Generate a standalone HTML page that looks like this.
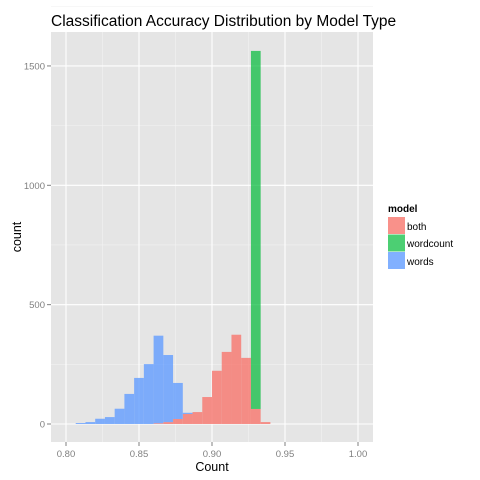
<!DOCTYPE html>
<html><head><meta charset="utf-8"><style>
body{margin:0;background:#fff;}
svg{display:block;font-family:"Liberation Sans",Arial,sans-serif;}
</style></head><body>
<svg id="chart" width="480" height="480" viewBox="0 0 480 480">
<rect width="480" height="480" fill="#fff"/>
<text x="51" y="26" font-size="15.5" fill="#000">Classification Accuracy Distribution by Model Type</text>
<rect x="51" y="32" width="322" height="410" fill="#E5E5E5"/>
<g id="grid"></g>
<g id="bars"></g>
<g id="axes"></g>
<text x="212" y="471" font-size="12.5" text-anchor="middle">Count</text>
<text transform="translate(21,237) rotate(-90)" font-size="12.5" text-anchor="middle">count</text>
<g>
<text x="388" y="212" font-size="10" font-weight="bold">model</text>
<g><rect x="388" y="217" width="17" height="17" fill="#F8766D" fill-opacity="0.8"/><text x="407" y="230" font-size="10">both</text></g>
<g><rect x="388" y="234.5" width="17" height="17" fill="#00BA38" fill-opacity="0.7"/><text x="407" y="247" font-size="10">wordcount</text></g>
<g><rect x="388" y="252" width="17" height="17" fill="#619CFF" fill-opacity="0.8"/><text x="407" y="265" font-size="10">words</text></g>
</g>
</svg>
<script>
const binWidth = 1/150;
const redStartBin = 129;
const redCounts = [3,8,21,42,50,113,223,302,374,277,63,8];
const blueStartBin = 121;
const blueCounts = [4,8,22,29,64,126,193,251,367,281,151,5];
const greenStartBin = 139;
const greenCounts = [1500];
const xTicks = [0.80,0.85,0.90,0.95,1.00];
const xTickLabels = ["0.80","0.85","0.90","0.95","1.00"];
const yTicks = [0,500,1000,1500];
const yTickLabels = ["0","500","1000","1500"];

const NS="http://www.w3.org/2000/svg";
const X = v => 66 + (v-0.8)*1460;
const Y = c => 424 - c*0.2387;
function mk(tag, attrs, parent){const e=document.createElementNS(NS,tag);for(const k in attrs)e.setAttribute(k,attrs[k]);parent.appendChild(e);return e;}
const grid=document.getElementById('grid'), bars=document.getElementById('bars'), axes=document.getElementById('axes');
for(let i=0;i<xTicks.length-1;i++){const xv=(xTicks[i]+xTicks[i+1])/2;const l=mk('line',{x1:X(xv),x2:X(xv),y1:32,y2:442,stroke:'#F2F2F2','stroke-width':0.6},grid);

}
for(let i=0;i<yTicks.length;i++){const yv=yTicks[i]+250;const l=mk('line',{x1:51,x2:373,y1:Y(yv),y2:Y(yv),stroke:'#F2F2F2','stroke-width':0.6},grid);

}
xTicks.forEach((v,i)=>{const l=mk('line',{x1:X(v),x2:X(v),y1:32,y2:442,stroke:'#fff','stroke-width':1.1},grid);


const t=mk('line',{x1:X(v),x2:X(v),y1:442,y2:446,stroke:'#7f7f7f'},axes);


const tx=mk('text',{x:X(v),y:457,'font-size':9.5,fill:'#7f7f7f','text-anchor':'middle'},axes);tx.textContent=xTickLabels[i];

});
yTicks.forEach((v,i)=>{const l=mk('line',{x1:51,x2:373,y1:Y(v),y2:Y(v),stroke:'#fff','stroke-width':1.1},grid);


const t=mk('line',{x1:47,x2:51,y1:Y(v),y2:Y(v),stroke:'#7f7f7f'},axes);


const tx=mk('text',{x:45,y:Y(v)+3.5,'font-size':9.5,fill:'#7f7f7f','text-anchor':'end'},axes);tx.textContent=yTickLabels[i];

});
const base={};
function draw(start,counts,color,op,name){counts.forEach((c,i)=>{const b=start+i;const lo=base[b]||0;const x0=X(b*binWidth),x1=X((b+1)*binWidth);
const r=mk('rect',{x:x0,y:Y(lo+c),width:x1-x0,height:Y(lo)-Y(lo+c),fill:color,'fill-opacity':op},bars);


base[b]=lo+c;});}
draw(redStartBin,redCounts,'#F8766D',0.8,'bar-both');
draw(blueStartBin,blueCounts,'#619CFF',0.8,'bar-words');
draw(greenStartBin,greenCounts,'#00BA38',0.7,'bar-wordcount');
</script>
</body></html>
